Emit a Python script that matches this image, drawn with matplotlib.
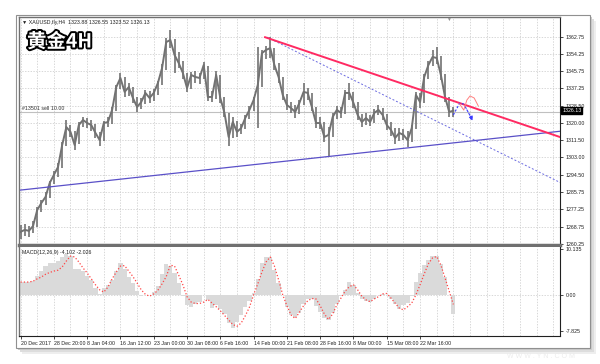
import numpy as np
import matplotlib
matplotlib.use("Agg")
import matplotlib.pyplot as plt
from matplotlib.patches import Rectangle
from matplotlib.transforms import blended_transform_factory
import matplotlib.patheffects as pe

plt.rcParams["font.family"] = ["Liberation Sans", "DejaVu Sans"]

# Gold H4, sampled every 4 bars (bar index = 4 * k)
close = [1266.1, 1267.1, 1266.6, 1269.0, 1276.9, 1280.4, 1283.4, 1290.3, 1294.3, 1298.2,
         1309.1, 1318.0, 1315.6, 1309.1, 1319.0, 1321.5, 1320.0, 1319.0, 1315.1, 1311.6,
         1320.0, 1320.5, 1326.5, 1337.8, 1342.3, 1335.4, 1337.8, 1332.4, 1327.9, 1330.4,
         1334.9, 1332.4, 1334.9, 1339.8, 1347.2, 1360.1, 1361.1, 1353.7, 1349.7, 1344.8,
         1337.3, 1343.8, 1342.8, 1342.3, 1348.7, 1332.9, 1332.9, 1343.8, 1332.4, 1325.0,
         1313.1, 1320.5, 1315.6, 1317.5, 1322.5, 1326.5, 1331.4, 1338.8, 1354.6, 1356.2,
         1357.1, 1348.7, 1342.8, 1333.9, 1328.9, 1327.4, 1325.5, 1329.9, 1335.4, 1334.9,
         1327.9, 1320.0, 1320.0, 1313.1, 1314.1, 1323.0, 1326.5, 1325.0, 1334.9, 1334.9,
         1329.9, 1324.0, 1320.5, 1322.5, 1320.5, 1325.0, 1326.5, 1324.0, 1319.0, 1316.6,
         1312.6, 1315.1, 1314.1, 1311.6, 1317.5, 1333.9, 1330.4, 1342.8, 1348.7, 1352.7,
         1352.2, 1343.8, 1332.9, 1325.5, 1326.1]
high = [1269.5, 1269.8, 1269.0, 1271.5, 1278.5, 1282.0, 1285.6, 1291.5, 1296.0, 1300.0,
        1310.5, 1321.5, 1319.2, 1316.0, 1320.4, 1323.0, 1322.6, 1321.4, 1319.5, 1315.8,
        1321.2, 1323.0, 1328.0, 1339.0, 1345.0, 1343.0, 1340.0, 1338.0, 1333.0, 1332.4,
        1336.2, 1336.0, 1337.0, 1341.0, 1349.0, 1362.0, 1366.0, 1361.5, 1355.0, 1350.5,
        1345.0, 1345.5, 1346.0, 1345.0, 1350.4, 1348.0, 1336.0, 1346.0, 1344.0, 1332.8,
        1325.0, 1322.8, 1321.0, 1319.6, 1324.0, 1328.2, 1333.0, 1357.5, 1356.0, 1358.0,
        1362.5, 1357.0, 1349.5, 1343.0, 1334.5, 1330.5, 1329.0, 1331.5, 1340.0, 1337.5,
        1335.0, 1328.0, 1322.8, 1320.5, 1318.0, 1324.8, 1328.5, 1328.0, 1336.5, 1340.0,
        1335.5, 1330.5, 1324.6, 1325.0, 1323.8, 1327.0, 1329.0, 1327.5, 1324.6, 1320.5,
        1317.5, 1317.6, 1317.0, 1316.0, 1319.0, 1335.5, 1335.0, 1344.5, 1350.5, 1356.0,
        1357.5, 1353.0, 1344.5, 1333.0, 1328.0]
low = [1262.5, 1264.0, 1263.8, 1265.5, 1268.5, 1275.8, 1279.5, 1283.0, 1289.6, 1293.5,
       1297.8, 1308.5, 1313.0, 1306.8, 1309.5, 1317.8, 1317.5, 1316.2, 1312.4, 1308.7,
       1311.0, 1318.0, 1319.6, 1326.0, 1336.8, 1333.0, 1333.5, 1330.0, 1325.6, 1326.8,
       1329.5, 1329.8, 1331.0, 1334.0, 1339.0, 1346.5, 1357.0, 1345.0, 1347.0, 1342.0,
       1335.5, 1337.0, 1340.0, 1339.5, 1341.8, 1331.0, 1330.5, 1332.0, 1330.0, 1323.2,
       1308.5, 1312.5, 1313.0, 1314.5, 1316.8, 1321.8, 1325.8, 1317.5, 1338.0, 1351.5,
       1352.0, 1346.5, 1340.0, 1331.5, 1326.5, 1324.8, 1322.5, 1324.6, 1329.0, 1331.5,
       1325.8, 1317.5, 1317.0, 1310.5, 1303.0, 1313.0, 1322.0, 1322.4, 1324.5, 1331.5,
       1327.2, 1321.5, 1318.0, 1319.0, 1318.5, 1319.8, 1323.8, 1321.5, 1316.6, 1313.5,
       1309.5, 1311.0, 1311.4, 1308.0, 1310.5, 1317.0, 1327.5, 1330.0, 1342.0, 1348.0,
       1349.0, 1341.5, 1330.5, 1322.8, 1323.2]

macd_hist = [3.0, 3.0, 3.0, 3.2, 4.3, 5.4, 6.4, 7.0, 7.1, 7.5,
             8.3, 9.1, 8.5, 5.8, 5.7, 5.3, 4.3, 3.3, 1.6, 0.2,
             1.6, 2.2, 3.4, 5.3, 7.0, 5.8, 4.0, 2.7, 0.9, -0.1,
             0.0, 0.1, 0.7, 2.0, 4.7, 6.8, 6.5, 4.9, 2.8, -0.2,
             -2.2, -2.6, -1.9, -1.4, 0.1, -1.0, -2.8, -2.2, -3.0, -4.2,
             -6.0, -7.2, -5.8, -4.3, -2.5, -1.2, 0.5, 3.6, 7.0, 8.3,
             8.3, 5.5, 2.8, 0.1, -2.6, -4.3, -4.8, -3.8, -2.0, -0.8,
             -0.9, -2.3, -3.7, -5.0, -5.4, -3.9, -2.0, -0.2, 1.2, 2.9,
             2.2, 0.4, -0.8, -1.3, -1.4, -0.8, 0.0, 0.3, 0.1, -0.8,
             -2.0, -3.0, -2.1, -1.7, -0.2, 3.0, 4.8, 6.6, 7.8, 8.5,
             8.5, 6.8, 4.1, 0.0, -4.1]
macd_signal = [2.9, 2.9, 2.9, 3.1, 3.6, 4.0, 4.6, 5.0, 5.3, 5.5,
               6.2, 7.5, 8.6, 8.4, 7.3, 6.0, 4.9, 3.6, 2.3, 1.2,
               0.7, 1.8, 3.6, 5.1, 6.4, 6.5, 5.3, 4.1, 2.7, 1.2,
               0.2, -0.2, 0.3, 1.1, 2.5, 4.1, 6.6, 6.4, 4.4, 2.3,
               -0.3, -1.5, -1.8, -1.8, -1.5, -0.9, -1.7, -2.5, -3.4, -4.4,
               -5.4, -6.4, -6.8, -6.1, -4.5, -2.6, 0.1, 2.5, 5.1, 7.3,
               8.4, 6.4, 3.4, 0.1, -2.3, -4.3, -5.1, -3.7, -2.3, -1.2,
               -0.7, -0.8, -2.3, -4.1, -5.3, -4.1, -2.1, -0.6, 0.9, 1.9,
               2.3, 1.2, -0.2, -1.0, -1.4, -0.8, -0.3, 0.3, 0.4, -0.6,
               -1.7, -2.8, -3.2, -2.5, -1.7, 0.1, 2.3, 4.7, 6.9, 8.2,
               8.5, 6.6, 3.8, 0.9, -2.0]

# trend lines: (bar, price) anchors
red_line_bars = [235, 520]
red_line_prices = [1362.5, 1312.8]
blue_dot_bars = [237, 520]
blue_dot_prices = [1362.5, 1290.2]
blue_line_bars = [0, 520]
blue_line_prices = [1286.8, 1316.0]
# hand-drawn projection
proj_bars = [416, 422, 426, 436]
proj_prices = [1324.0, 1329.8, 1329.4, 1319.9]
wave_bars = [422, 426, 429, 432, 436, 440]
wave_prices = [1329.4, 1326.4, 1331.4, 1333.4, 1332.4, 1328.4]

price_ticks = [1260.25, 1268.75, 1277.25, 1285.75, 1294.50, 1303.00, 1311.50,
               1320.00, 1328.50, 1337.25, 1345.75, 1354.25, 1362.75]
date_labels = ["20 Dec 2017", "28 Dec 20:00", "8 Jan 04:00", "16 Jan 12:00",
               "23 Jan 00:00", "30 Jan 08:00", "6 Feb 16:00", "14 Feb 00:00",
               "21 Feb 08:00", "28 Feb 16:00", "8 Mar 00:00", "15 Mar 08:00",
               "22 Mar 16:00"]
bid = 1326.13
order_price = 1325.6

bars = np.arange(len(close)) * 4
W, H = 600, 364
small = 3.8

fig = plt.figure(figsize=(6, 3.64), dpi=100)
fig.patch.set_facecolor("white")


def px(x0, y0, x1, y1):
    return (x0 / W, 1 - y1 / H, (x1 - x0) / W, (y1 - y0) / H)


# window frame with soft shadow
for off, col in [(6, "#eeeeee"), (4, "#dddddd"), (2, "#cccccc")]:
    l, b, w, h = px(16 + off, 15 + off, 590 + off, 348 + off)
    fig.add_artist(Rectangle((l, b), w, h, transform=fig.transFigure,
                             fc=col, ec="none", zorder=-3))
l, b, w, h = px(16, 15, 590, 348)
fig.add_artist(Rectangle((l, b), w, h, transform=fig.transFigure,
                         fc="white", ec="#909090", lw=0.8, zorder=-2))

ax = fig.add_axes(px(19, 17, 560, 245))
ax2 = fig.add_axes(px(19, 247, 560, 336), sharex=ax)

grid_kw = dict(color="#c8c8c8", lw=0.5, ls=(0, (2, 2)))
xmin, xmax = -1.5, 518.5

# ---- price panel
for t in np.arange(0, 520, 16):
    ax.axvline(t, zorder=0, **grid_kw)
    ax2.axvline(t, zorder=0, **grid_kw)
for p in price_ticks:
    ax.axhline(p, zorder=0, **grid_kw)

ax.axhline(order_price, color="#c0c0c0", lw=0.8, zorder=1)
ax.vlines(bars, low, high, color="#727272", lw=1.2, zorder=2)
ax.plot(bars, close, color="#727272", lw=1.4, zorder=2)

ax.plot(blue_line_bars, blue_line_prices, color="#5a50c8", lw=0.9, zorder=3)
ax.plot(blue_dot_bars, blue_dot_prices, color="#6a6ae0", lw=0.7,
        ls=(0, (2, 2)), zorder=3)
ax.plot(red_line_bars, red_line_prices, color="#ff2a62", lw=1.4, zorder=3)
ax.plot(proj_bars[:-1], proj_prices[:-1], color="#3a3aff", lw=0.8,
        ls=(0, (2, 1.5)), zorder=4)
ax.annotate("", xy=(proj_bars[-1], proj_prices[-1]),
            xytext=(proj_bars[-2], proj_prices[-2]),
            arrowprops=dict(arrowstyle="-|>", color="#3a3aff", lw=0.8,
                            ls=(0, (2, 1.5)), mutation_scale=6), zorder=4)
ax.plot(wave_bars, wave_prices, color="#ff8080", lw=0.7, zorder=4)

ax.set_xlim(xmin, xmax)
ax.set_ylim(1259.6, 1372.5)
ax.yaxis.tick_right()
ax.set_yticks(price_ticks)
ax.set_yticklabels([f"{p:.2f}" for p in price_ticks], fontsize=small, color="#202020")
ax.tick_params(axis="y", length=2, width=0.5, pad=2)
ax.tick_params(axis="x", length=0, labelbottom=False)
for s in ["left", "top"]:
    ax.spines[s].set_color("#707070")
    ax.spines[s].set_linewidth(1.0)
ax.spines["right"].set_color("#202020")
ax.spines["right"].set_linewidth(0.8)
ax.spines["bottom"].set_color("#707070")
ax.spines["bottom"].set_linewidth(2.5)

tr = blended_transform_factory(ax.transAxes, ax.transData)
ax.text(1.004, bid, f"{bid:.2f}", transform=tr, fontsize=small, color="white",
        va="center", ha="left",
        bbox=dict(boxstyle="square,pad=0.15", fc="black", ec="black"))
ax.text(0.005, order_price + 0.6, "#13501 sell 10.00", transform=tr,
        fontsize=small, color="#303030", va="bottom", ha="left")
ax.text(0.006, 0.988, "\u25BC XAUUSD,fly,H4  1323.88 1326.55 1323.52 1326.13",
        transform=ax.transAxes, fontsize=small, color="#202020", va="top", ha="left")
ax.text(0.794, 1.0, "\u25BC", transform=ax.transAxes, fontsize=3.5, color="#909090",
        va="top", ha="center")

# ---- MACD panel
ax2.axhline(0, zorder=0, **grid_kw)
ax2.bar(bars, macd_hist, width=4, color="#dadada", ec="none", zorder=1)
ax2.plot(bars, macd_signal, color="#ff4545", lw=0.9, ls=(0, (1, 1.6)), zorder=2)
ax2.set_ylim(-8.92, 10.58)
ax2.yaxis.tick_right()
ax2.set_yticks([10.135, 0.0, -7.825])
ax2.set_yticklabels(["10.135", "0.00", "-7.825"], fontsize=small, color="#202020")
ax2.tick_params(axis="y", length=2, width=0.5, pad=2)
ax2.set_xticks(np.arange(len(date_labels)) * 32)
ax2.set_xticklabels(date_labels, fontsize=small, color="#202020", ha="left")
ax2.tick_params(axis="x", length=2, width=0.5, pad=1.5)
ax2.spines["top"].set_visible(False)
ax2.spines["left"].set_color("#707070")
ax2.spines["left"].set_linewidth(1.0)
for s in ["right", "bottom"]:
    ax2.spines[s].set_color("#202020")
    ax2.spines[s].set_linewidth(0.8)
ax2.text(0.006, 0.97, "MACD(12,26,9) -4.102 -2.026", transform=ax2.transAxes,
         fontsize=small, color="#202020", va="top", ha="left")

# title
fig.text(27 / W, 1 - 42 / H, "黄金4H", fontsize=14, fontweight="bold",
         family=["Noto Sans CJK SC", "DejaVu Sans"], color="white",
         va="center", ha="left",
         path_effects=[pe.Stroke(linewidth=2.8, foreground="black"), pe.Normal()])
fig.text(575 / W, 1 - 356 / H, "W W W . Y N . C O M", fontsize=5, color="#ececec",
         ha="right", va="center")

fig.savefig("out.png", dpi=100, facecolor="white")
